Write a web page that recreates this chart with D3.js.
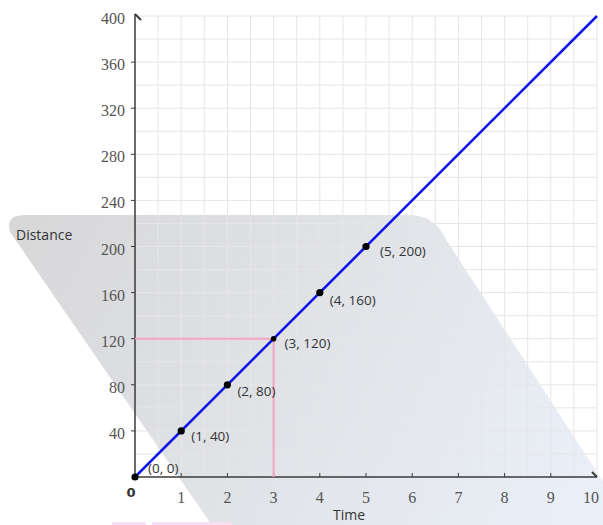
<!DOCTYPE html>
<html>
<head>
<meta charset="utf-8">
<script src="https://cdn.jsdelivr.net/npm/d3@7"></script>
<style>
html,body{margin:0;padding:0;background:#fff;}
svg{display:block;}
</style>
</head>
<body>
<svg id="chart" width="603" height="525"></svg>
<script>
const xTicks = [1,2,3,4,5,6,7,8,9,10];
const yTicks = [40,80,120,160,200,240,280,320,360,400];
const times = [0,1,2,3,4,5];
const distances = [0,40,80,120,160,200];
const pointLabels = ["(0, 0)","(1, 40)","(2, 80)","(3, 120)","(4, 160)","(5, 200)"];
const lineX = [0,10];
const lineY = [0,400];
const guideX = 3, guideY = 120;

const svg = d3.select("#chart");
const x = d3.scaleLinear().domain([0,10]).range([135,597]);
const y = d3.scaleLinear().domain([0,400]).range([477,16]);

// background shaded shape
const defs = svg.append("defs");
const grad = defs.append("linearGradient").attr("id","bg").attr("gradientUnits","userSpaceOnUse")
  .attr("x1",0).attr("y1",215).attr("x2",560).attr("y2",520);
grad.append("stop").attr("offset","0").attr("stop-color","#d7d7d8");
grad.append("stop").attr("offset","0.5").attr("stop-color","#e0e2e6");
grad.append("stop").attr("offset","1").attr("stop-color","#eaeff7");
svg.append("path")
  .attr("d","M25 215 L410 215 Q435 215 447 241 L641 540 L222 540 L10 232 Q5 215 25 215 Z")
  .attr("fill","url(#bg)");

// faint pink artifacts at bottom
svg.append("rect").attr("x",112).attr("y",522).attr("width",34).attr("height",3).attr("fill","#f6e0f4");
svg.append("rect").attr("x",152).attr("y",522).attr("width",80).attr("height",3).attr("fill","#f6e0f4");

// grid
const g = svg.append("g");
const xGrid = d3.range(0.5, 10.01, 0.5);
const yGrid = d3.range(20, 400.1, 20);
g.selectAll(".vg").data(xGrid).join("line")
  .attr("x1",d=>x(d)).attr("x2",d=>x(d)).attr("y1",y(400)).attr("y2",y(0))
  .attr("stroke","#e6e6e6").attr("stroke-width",1);
g.selectAll(".hg").data(yGrid).join("line")
  .attr("x1",x(0)).attr("x2",x(10)).attr("y1",d=>y(d)).attr("y2",d=>y(d))
  .attr("stroke","#e6e6e6").attr("stroke-width",1);

// axes
const axisColor = "#3a3a3a";
svg.append("line").attr("x1",x(0)).attr("x2",x(0)).attr("y1",y(0)).attr("y2",y(400)-2)
  .attr("stroke",axisColor).attr("stroke-width",1.5);
svg.append("line").attr("x1",x(0)).attr("x2",x(10)).attr("y1",y(0)).attr("y2",y(0))
  .attr("stroke",axisColor).attr("stroke-width",1.5);
svg.append("line").attr("x1",x(0)).attr("y1",y(400)-2).attr("x2",x(0)+6).attr("y2",y(400)+4)
  .attr("stroke",axisColor).attr("stroke-width",2);
svg.append("line").attr("x1",x(10)).attr("y1",y(0)).attr("x2",x(10)-5).attr("y2",y(0)-5)
  .attr("stroke",axisColor).attr("stroke-width",2);

svg.selectAll(".xt").data(xTicks.slice(0,9)).join("line")
  .attr("x1",d=>x(d)).attr("x2",d=>x(d)).attr("y1",y(0)).attr("y2",y(0)-4)
  .attr("stroke",axisColor).attr("stroke-width",1);
svg.selectAll(".yt").data(yTicks.slice(0,9)).join("line")
  .attr("x1",x(0)-4).attr("x2",x(0)).attr("y1",d=>y(d)).attr("y2",d=>y(d))
  .attr("stroke",axisColor).attr("stroke-width",1);

const serif = "'Liberation Serif','DejaVu Serif',serif";
svg.selectAll(".xl").data(xTicks).join("text")
  .attr("x",d=>d===10 ? x(d)+2 : x(d)).attr("y",503)
  .attr("text-anchor",d=>d===10 ? "end" : "middle")
  .attr("font-family",serif).attr("font-size",16).attr("fill","#555").text(d=>d);
svg.selectAll(".yl").data(yTicks).join("text")
  .attr("x",125).attr("y",d=>y(d)+8).attr("text-anchor","end")
  .attr("font-family",serif).attr("font-size",16).attr("fill","#555").text(d=>d);
svg.append("text").attr("x",131).attr("y",497).attr("text-anchor","middle")
  .attr("font-family","'DejaVu Sans',sans-serif").attr("font-weight","bold").attr("font-size",13).attr("fill","#333").text("0");

// titles
const sans = "'Open Sans','Noto Sans',sans-serif";
svg.append("text").attr("x",16).attr("y",240).attr("font-family",sans).attr("font-size",14).attr("fill","#333").text("Distance");
svg.append("text").attr("x",333).attr("y",520).attr("font-family",sans).attr("font-size",14).attr("fill","#333").text("Time");

// pink guides
svg.append("line").attr("x1",x(0)).attr("x2",x(guideX)).attr("y1",y(guideY)).attr("y2",y(guideY))
  .attr("stroke","#f5a3bf").attr("stroke-width",2);
svg.append("line").attr("x1",x(guideX)).attr("x2",x(guideX)).attr("y1",y(guideY)).attr("y2",y(0))
  .attr("stroke","#f5a3bf").attr("stroke-width",2);

// main line
svg.append("line").attr("x1",x(lineX[0])).attr("y1",y(lineY[0])).attr("x2",x(lineX[1])).attr("y2",y(lineY[1]))
  .attr("stroke","#0a14e6").attr("stroke-width",2.5);

// points
const pts = times.map((t,i)=>({t, d:distances[i], label:pointLabels[i]}));
svg.selectAll(".pt").data(pts).join("circle")
  .attr("cx",d=>x(d.t)).attr("cy",d=>y(d.d)).attr("r",(d,i)=>i===3?2.8:3.6).attr("fill","#000");
const offs = [[13,-4],[10,10],[10,11],[11,9],[10,12],[14,9]];
svg.selectAll(".pl").data(pts).join("text")
  .attr("x",(d,i)=>x(d.t)+offs[i][0]).attr("y",(d,i)=>y(d.d)+offs[i][1])
  .attr("font-family",sans).attr("font-size",13.5).attr("fill","#333").text(d=>d.label);
</script>
</body>
</html>
